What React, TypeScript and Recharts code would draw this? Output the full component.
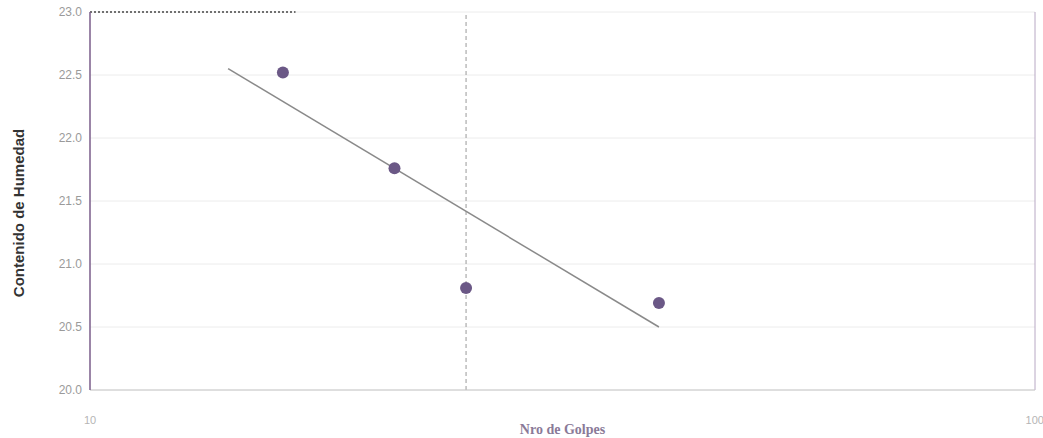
import React from 'react';
import {
  ComposedChart,
  Scatter,
  Line,
  XAxis,
  YAxis,
  CartesianGrid,
  ReferenceLine,
} from 'recharts';

// ensayo de límite líquido: número de golpes vs contenido de humedad
const golpes = [16, 21, 25, 40];
const humedad = [22.52, 21.76, 20.81, 20.69];

// recta de tendencia (extremos)
const tendenciaGolpes = [14, 40];
const tendenciaHumedad = [22.55, 20.5];

const yTicks = [20.0, 20.5, 21.0, 21.5, 22.0, 22.5, 23.0];
const xTicks = [10, 100];

const puntos = golpes.map((g, i) => ({ golpes: g, humedad: humedad[i] }));
const tendencia = tendenciaGolpes.map((g, i) => ({ golpes: g, humedad: tendenciaHumedad[i] }));

const YLabel = (props: any) => {
  const { viewBox } = props;
  const cy = viewBox.y + viewBox.height / 2 + 12;
  const cx = 18;
  return (
    <text
      x={cx}
      y={cy}
      transform={`rotate(-90, ${cx}, ${cy})`}
      textAnchor="middle"
      dominantBaseline="central"
      fill="#333"
      fontSize={15}
      fontWeight="bold"
      fontFamily='Arial, "Liberation Sans", sans-serif'
    >
      Contenido de Humedad
    </text>
  );
};

const App: React.FC = () => {
  return (
    <div style={{ position: 'absolute', left: 0, top: 0, width: 1043, height: 438, background: '#fff' }}>
      <ComposedChart
        width={1043}
        height={438}
        margin={{ top: 12, right: 8, left: 0, bottom: 8 }}
      >
        <CartesianGrid horizontal={true} vertical={false} stroke="#ececec" />
        <XAxis
          type="number"
          dataKey="golpes"
          scale="log"
          domain={[10, 100]}
          ticks={xTicks}
          allowDataOverflow
          height={40}
          axisLine={{ stroke: '#c8c8c8' }}
          tickLine={false}
          tick={{ fill: '#b5b5b5', fontSize: 11, fontFamily: 'Arial, sans-serif' }}
          tickMargin={20}
          label={{
            value: 'Nro de Golpes',
            position: 'insideBottom',
            offset: -4,
            fill: '#8a7a98',
            fontSize: 14,
            fontWeight: 'bold',
            fontFamily: '"Times New Roman", "Liberation Serif", serif',
          }}
        />
        <YAxis
          type="number"
          dataKey="humedad"
          domain={[20, 23]}
          ticks={yTicks}
          width={90}
          axisLine={{ stroke: '#7a5c8a', strokeWidth: 1.5 }}
          tickLine={false}
          tickFormatter={(v: number) => v.toFixed(1)}
          tick={{ fill: '#9a9a9a', fontSize: 12, fontFamily: 'Arial, sans-serif' }}
          label={<YLabel />}
        />
        <ReferenceLine
          segment={[{ x: 10, y: 23 }, { x: 16.5, y: 23 }]}
          stroke="#444"
          strokeDasharray="2 2"
          strokeWidth={1.5}
        />
        <ReferenceLine x={25} stroke="#999" strokeDasharray="4 3" />
        <ReferenceLine x={100} stroke="#b8a8c4" />
        <Line
          data={tendencia}
          dataKey="humedad"
          type="linear"
          stroke="#8a8a8a"
          strokeWidth={1.5}
          dot={false}
          isAnimationActive={false}
        />
        <Scatter
          data={puntos}
          dataKey="humedad"
          fill="#6b5886"
          shape={(props: any) => <circle cx={props.cx} cy={props.cy} r={6} fill="#6b5886" />}
          isAnimationActive={false}
        />
      </ComposedChart>
    </div>
  );
};

export default App;
